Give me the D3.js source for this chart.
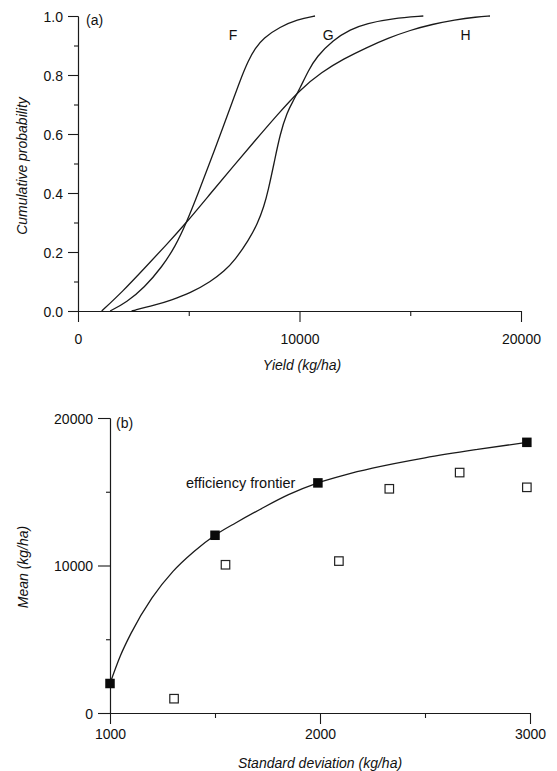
<!DOCTYPE html>
<html>
<head>
<meta charset="utf-8">
<script src="https://cdn.jsdelivr.net/npm/d3@7/dist/d3.min.js"></script>
<style>
  html, body { margin: 0; padding: 0; background: #fff; }
  svg { display: block; }
  text { font-family: "Liberation Sans", Arial, Helvetica, sans-serif; fill: #111; }
</style>
</head>
<body>
<script>
// ---------- Panel (a) data: cumulative distribution curves (yield kg/ha, probability) ----------
const curveNames = ["F", "G", "H"];
const curveF = [[1450,0],[2200,0.03],[3000,0.08],[3800,0.15],[4400,0.22],[4900,0.30],[5430,0.40],[5960,0.505],[6560,0.625],[7000,0.715],[7310,0.78],[7690,0.85],[8000,0.89],[8360,0.925],[9120,0.963],[9900,0.988],[10700,1.0]];
const curveG = [[2420,0],[3500,0.02],[4200,0.037],[5060,0.06],[6000,0.10],[6600,0.135],[7090,0.173],[7700,0.24],[8100,0.295],[8400,0.355],[8590,0.41],[8850,0.50],[9120,0.60],[9450,0.675],[9700,0.71],[10020,0.755],[10400,0.815],[10770,0.862],[11520,0.919],[12300,0.955],[13030,0.975],[14200,0.992],[15590,1.0]];
const curveH = [[1070,0],[2000,0.065],[3000,0.145],[4000,0.225],[4900,0.30],[6000,0.40],[7000,0.49],[8000,0.578],[9000,0.665],[10020,0.75],[11000,0.81],[12000,0.855],[13000,0.892],[14000,0.925],[15000,0.952],[16000,0.972],[17000,0.987],[18000,0.997],[18600,1.0]];
const curveLabelPos = [[7000,0.935],[11300,0.935],[17500,0.935]];
const yieldTicks = [0, 10000, 20000];
const yieldMinorTicks = [5000, 15000];
const probTicks = [0, 0.2, 0.4, 0.6, 0.8, 1.0];
const probMinorTicks = [0.1, 0.3, 0.5, 0.7, 0.9];

// ---------- Panel (b) data: mean vs standard deviation (kg/ha) ----------
const frontierPoints = [[1000,2000],[1500,12050],[1990,15600],[2985,18350]];
const otherPoints = [[1305,970],[1550,10050],[2090,10300],[2330,15200],[2665,16300],[2985,15300]];
const frontierLine = [[1000,2000],[1050,3900],[1100,5400],[1200,7800],[1300,9600],[1400,10950],[1500,12050],[1600,12900],[1714,13800],[1850,14800],[1990,15600],[2120,16150],[2250,16600],[2500,17300],[2750,17870],[2985,18350]];
const frontierLabel = "efficiency frontier";
const sdTicks = [1000, 2000, 3000];
const sdMinorTicks = [1500, 2500];
const meanTicks = [0, 10000, 20000];
const meanMinorTicks = [5000, 15000];

const W = 557, H = 771;
const svg = d3.select("body").append("svg").attr("width", W).attr("height", H);
const ink = "#1a1a1a";
const FS = "14px";

function styleAxis(g) {
  g.selectAll("path.domain").attr("stroke", ink).attr("stroke-width", 1.1);
  g.selectAll(".tick line").attr("stroke", ink).attr("stroke-width", 1.1);
  g.selectAll(".tick text").style("font-size", FS).attr("fill", "#111");
}

// ================= Panel (a) =================
const xA = d3.scaleLinear().domain([0, 20000]).range([78, 521]);
const yA = d3.scaleLinear().domain([0, 1]).range([311, 16]);
const gA = svg.append("g");

gA.append("g").attr("transform", `translate(0,${yA(0)})`)
  .call(d3.axisBottom(xA).tickValues(yieldTicks).tickSize(11).tickSizeOuter(0).tickPadding(12).tickFormat(d3.format("d")))
  .call(styleAxis);
gA.append("g").attr("transform", `translate(0,${yA(0)})`)
  .call(d3.axisBottom(xA).tickValues(yieldMinorTicks).tickSize(5).tickSizeOuter(0).tickFormat(""))
  .call(styleAxis);
gA.append("g").attr("transform", `translate(${xA(0)},0)`)
  .call(d3.axisLeft(yA).tickValues(probTicks).tickSize(10).tickSizeOuter(0).tickPadding(5).tickFormat(d3.format(".1f")))
  .call(styleAxis)
  .call(g => g.selectAll(".tick text").attr("dy", "0.36em"));
gA.append("g").attr("transform", `translate(${xA(0)},0)`)
  .call(d3.axisLeft(yA).tickValues(probMinorTicks).tickSize(4).tickSizeOuter(0).tickFormat(""))
  .call(styleAxis);

const lineA = d3.line().x(d => xA(d[0])).y(d => yA(d[1])).curve(d3.curveBasis);
[curveF, curveG, curveH].forEach(c => {
  gA.append("path").attr("d", lineA(c)).attr("fill", "none")
    .attr("stroke", ink).attr("stroke-width", 1.3);
});
curveNames.forEach((n, i) => {
  gA.append("text").attr("x", xA(curveLabelPos[i][0])).attr("y", yA(curveLabelPos[i][1]))
    .attr("text-anchor", "middle").attr("dy", "0.36em").style("font-size", FS).text(n);
});
gA.append("text").attr("x", 86).attr("y", 20).attr("dy", "0.36em").style("font-size", FS).text("(a)");
gA.append("text").attr("transform", "translate(22,166) rotate(-90)").attr("text-anchor", "middle")
  .attr("dy", "0.36em").style("font-size", FS).style("font-style", "italic").text("Cumulative probability");
gA.append("text").attr("x", 302).attr("y", 365).attr("text-anchor", "middle").attr("dy", "0.36em")
  .style("font-size", FS).style("font-style", "italic").text("Yield (kg/ha)");

// ================= Panel (b) =================
const xB = d3.scaleLinear().domain([1000, 3000]).range([110, 530]);
const yB = d3.scaleLinear().domain([0, 20000]).range([713, 418]);
const gB = svg.append("g");

gB.append("g").attr("transform", `translate(0,${yB(0)})`)
  .call(d3.axisBottom(xB).tickValues(sdTicks).tickSize(11).tickSizeOuter(0).tickPadding(5).tickFormat(d3.format("d")))
  .call(styleAxis);
gB.append("g").attr("transform", `translate(0,${yB(0)})`)
  .call(d3.axisBottom(xB).tickValues(sdMinorTicks).tickSize(5).tickSizeOuter(0).tickFormat(""))
  .call(styleAxis);
gB.append("g").attr("transform", `translate(${xB(1000)},0)`)
  .call(d3.axisLeft(yB).tickValues(meanTicks).tickSize(12).tickSizeOuter(0).tickPadding(5).tickFormat(d3.format("d")))
  .call(styleAxis)
  .call(g => g.selectAll(".tick text").attr("dy", "0.36em"));
gB.append("g").attr("transform", `translate(${xB(1000)},0)`)
  .call(d3.axisLeft(yB).tickValues(meanMinorTicks).tickSize(4).tickSizeOuter(0).tickFormat(""))
  .call(styleAxis);

const lineB = d3.line().x(d => xB(d[0])).y(d => yB(d[1])).curve(d3.curveMonotoneX);
gB.append("path").attr("d", lineB(frontierLine)).attr("fill", "none")
  .attr("stroke", ink).attr("stroke-width", 1.3);

const sF = 9.5, sO = 8.5;
gB.selectAll("rect.open").data(otherPoints).join("rect").attr("class", "open")
  .attr("x", d => xB(d[0]) - sO / 2).attr("y", d => yB(d[1]) - sO / 2)
  .attr("width", sO).attr("height", sO)
  .attr("fill", "#fff").attr("stroke", "#222").attr("stroke-width", 1.2);
gB.selectAll("rect.filled").data(frontierPoints).join("rect").attr("class", "filled")
  .attr("x", d => xB(d[0]) - sF / 2).attr("y", d => yB(d[1]) - sF / 2)
  .attr("width", sF).attr("height", sF).attr("fill", "#0a0a0a");

gB.append("text").attr("x", 186).attr("y", 483).attr("dy", "0.36em").style("font-size", "14.5px").text(frontierLabel);
gB.append("text").attr("x", 116).attr("y", 423).attr("dy", "0.36em").style("font-size", FS).text("(b)");
gB.append("text").attr("transform", "translate(23,567) rotate(-90)").attr("text-anchor", "middle")
  .attr("dy", "0.36em").style("font-size", FS).style("font-style", "italic").text("Mean (kg/ha)");
gB.append("text").attr("x", 320).attr("y", 763).attr("text-anchor", "middle").attr("dy", "0.36em")
  .style("font-size", FS).style("font-style", "italic").text("Standard deviation (kg/ha)");
</script>
</body>
</html>
